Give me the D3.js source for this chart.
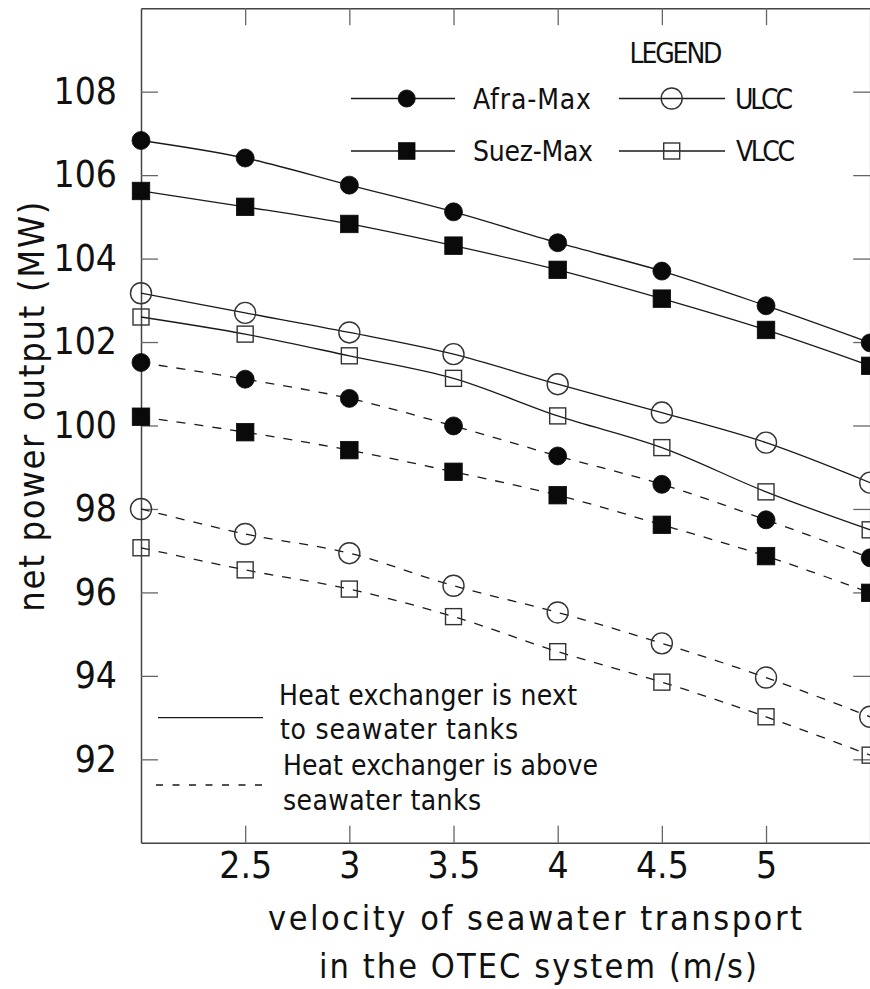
<!DOCTYPE html>
<html>
<head>
<meta charset="utf-8">
<script src="https://cdn.jsdelivr.net/npm/d3@7"></script>
<style>
  html, body { margin: 0; padding: 0; background: #fff; }
  svg { display: block; }
  text { font-family: "Liberation Sans Narrow", "DejaVu Sans Condensed", "DejaVu Sans", sans-serif; fill: #111; }
</style>
</head>
<body>
<svg id="chart" width="870" height="989"></svg>
<script>
// Velocity of seawater transport (m/s)
const velocities = [2, 2.5, 3, 3.5, 4, 4.5, 5, 5.5];

// Net power output (MW) — heat exchanger next to the seawater tanks
const afraMaxNext  = [106.83, 106.41, 105.76, 105.12, 104.38, 103.70, 102.87, 101.98];
const suezMaxNext  = [105.62, 105.24, 104.83, 104.31, 103.73, 103.04, 102.29, 101.43];
const ulccNext     = [103.17, 102.70, 102.23, 101.71, 100.99, 100.31, 99.59, 98.63];
const vlccNext     = [102.60, 102.19, 101.67, 101.13, 100.23, 99.47, 98.41, 97.50];

// Net power output (MW) — heat exchanger above the seawater tanks
const afraMaxAbove = [101.51, 101.11, 100.65, 99.99, 99.27, 98.59, 97.74, 96.83];
const suezMaxAbove = [100.21, 99.84, 99.41, 98.89, 98.33, 97.62, 96.87, 95.99];
const ulccAbove    = [98.00, 97.40, 96.94, 96.16, 95.52, 94.78, 93.96, 93.02];
const vlccAbove    = [97.07, 96.54, 96.08, 95.42, 94.58, 93.85, 93.02, 92.10];

const xTicks = [2.5, 3, 3.5, 4, 4.5, 5];
const yTicks = [92, 94, 96, 98, 100, 102, 104, 106, 108];

const series = [
  { vessel: "Afra-Max", layout: "next",  values: afraMaxNext },
  { vessel: "Suez-Max", layout: "next",  values: suezMaxNext },
  { vessel: "ULCC",     layout: "next",  values: ulccNext },
  { vessel: "VLCC",     layout: "next",  values: vlccNext },
  { vessel: "Afra-Max", layout: "above", values: afraMaxAbove },
  { vessel: "Suez-Max", layout: "above", values: suezMaxAbove },
  { vessel: "ULCC",     layout: "above", values: ulccAbove },
  { vessel: "VLCC",     layout: "above", values: vlccAbove }
];

const svg = d3.select("#chart");
const plotLeft = 141, plotRight = 870.2, plotTop = 8.2, plotBottom = 842.8;

const x = d3.scaleLinear().domain([2, 5.5]).range([plotLeft, plotRight]);
const y = d3.scaleLinear().domain([90, 110]).range([plotBottom, plotTop]);

// marker shapes per vessel class
const markerStyle = {
  "Afra-Max": { shape: "circle", size: 9,    filled: true },
  "Suez-Max": { shape: "square", size: 17.5, filled: true },
  "ULCC":     { shape: "circle", size: 10.5, filled: false },
  "VLCC":     { shape: "square", size: 16,   filled: false }
};

function drawMarker(g, vessel, cx, cy, scale) {
  const m = markerStyle[vessel];
  const s = scale || 1;
  let el;
  if (m.shape === "circle") {
    el = g.append("circle").attr("cx", cx).attr("cy", cy).attr("r", m.size * s);
  } else {
    const a = m.size * s;
    el = g.append("rect").attr("x", cx - a / 2).attr("y", cy - a / 2).attr("width", a).attr("height", a);
  }
  if (m.filled) el.attr("fill", "#0a0a0a").attr("stroke", "#0a0a0a").attr("stroke-width", 0.8);
  else el.attr("fill", "none").attr("stroke", "#333").attr("stroke-width", 1.4);
}

const TICK = 17;

// axes on all four sides with inward ticks
function styleAxis(g) {
  g.select(".domain").attr("stroke", "#444").attr("stroke-width", 1.5);
  g.selectAll(".tick line").attr("stroke", "#666").attr("stroke-width", 1.3);
}

svg.append("g").attr("transform", `translate(0,${plotBottom})`)
  .call(d3.axisBottom(x).tickValues(xTicks).tickSize(-TICK).tickPadding(9)
        .tickFormat(d => d).tickSizeOuter(0))
  .call(styleAxis)
  .call(g => g.selectAll(".tick text").attr("font-size", 37).attr("fill", "#111"));

svg.append("g").attr("transform", `translate(0,${plotTop})`)
  .call(d3.axisTop(x).tickValues(xTicks).tickSize(-TICK).tickFormat("").tickSizeOuter(0))
  .call(styleAxis);

svg.append("g").attr("transform", `translate(${plotLeft},0)`)
  .call(d3.axisLeft(y).tickValues(yTicks).tickSize(-TICK).tickPadding(24)
        .tickFormat(d => d).tickSizeOuter(0))
  .call(styleAxis)
  .call(g => g.selectAll(".tick text").attr("font-size", 37).attr("fill", "#111"));

svg.append("g").attr("transform", `translate(${plotRight},0)`)
  .call(d3.axisRight(y).tickValues(yTicks).tickSize(-TICK).tickFormat("").tickSizeOuter(0))
  .call(styleAxis);

// curves
const line = d3.line()
  .x((d, i) => x(velocities[i]))
  .y(d => y(d))
  .curve(d3.curveCatmullRom.alpha(0.5));

const curves = svg.append("g");
series.forEach(s => {
  curves.append("path")
    .attr("d", line(s.values))
    .attr("fill", "none")
    .attr("stroke", "#1a1a1a")
    .attr("stroke-width", 1.3)
    .attr("stroke-dasharray", s.layout === "above" ? "9,9" : null);
});

const markers = svg.append("g");
series.forEach(s => {
  s.values.forEach((v, i) => drawMarker(markers, s.vessel, x(velocities[i]), y(v)));
});

// vessel legend
const legend = svg.append("g");
legend.append("text").attr("x", 676).attr("y", 63).attr("text-anchor", "middle")
  .attr("font-size", 28).attr("textLength", 93).attr("lengthAdjust", "spacing").text("LEGEND");

const legendRows = [
  { vessel: "Afra-Max", x0: 351, x1: 455, mx: 406.7, y: 98.5, tx: 473, tw: 118 },
  { vessel: "Suez-Max", x0: 351, x1: 455, mx: 406.7, y: 151,  tx: 473, tw: 120 },
  { vessel: "ULCC",     x0: 619, x1: 725, mx: 671.7, y: 98.5, tx: 735, tw: 58 },
  { vessel: "VLCC",     x0: 619, x1: 725, mx: 671.7, y: 151,  tx: 736, tw: 59 }
];
legendRows.forEach(r => {
  legend.append("line").attr("x1", r.x0).attr("x2", r.x1).attr("y1", r.y).attr("y2", r.y)
    .attr("stroke", "#1a1a1a").attr("stroke-width", 1.3);
  drawMarker(legend, r.vessel, r.mx, r.y, r.vessel === "Afra-Max" || r.vessel === "Suez-Max" ? 0.95 : 1);
  legend.append("text").attr("x", r.tx).attr("y", r.y + 10).attr("font-size", 28)
    .attr("textLength", r.tw).attr("lengthAdjust", "spacing").text(r.vessel);
});

// heat exchanger placement legend
const hx = svg.append("g");
hx.append("line").attr("x1", 158).attr("x2", 263).attr("y1", 717.7).attr("y2", 717.7)
  .attr("stroke", "#1a1a1a").attr("stroke-width", 1.3);
hx.append("line").attr("x1", 156).attr("x2", 263).attr("y1", 785).attr("y2", 785)
  .attr("stroke", "#1a1a1a").attr("stroke-width", 1.3).attr("stroke-dasharray", "7,9.5");
const hxText = [
  { t: "Heat exchanger is next",  x: 279, y: 705, w: 298 },
  { t: "to seawater tanks",       x: 280, y: 738.5, w: 238 },
  { t: "Heat exchanger is above", x: 283, y: 775, w: 315 },
  { t: "seawater tanks",          x: 283, y: 810, w: 198 }
];
hxText.forEach(d => {
  hx.append("text").attr("x", d.x).attr("y", d.y).attr("font-size", 28)
    .attr("textLength", d.w).attr("lengthAdjust", "spacing").text(d.t);
});

// axis titles
svg.append("text").attr("x", 268).attr("y", 930).attr("font-size", 34)
  .attr("textLength", 534).attr("lengthAdjust", "spacing").text("velocity of seawater transport");
svg.append("text").attr("x", 319).attr("y", 978).attr("font-size", 34)
  .attr("textLength", 438).attr("lengthAdjust", "spacing").text("in the OTEC system (m/s)");

svg.append("text")
  .attr("transform", "translate(44,611.7) rotate(-90)")
  .attr("font-size", 36)
  .attr("textLength", 410).attr("lengthAdjust", "spacing")
  .text("net power output (MW)");
</script>
</body>
</html>
